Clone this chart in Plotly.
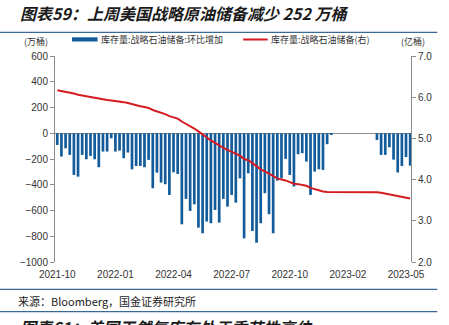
import pandas as pd
import plotly.graph_objects as go

# ---------------- data ----------------
weeks = pd.date_range("2021-10-01", periods=86, freq="7D").strftime("%Y-%m-%d").tolist()

# weekly change of SPR stocks (万桶)
spr_change = [
    -91, -181, -117, -168, -324, -337, -168, -202, -176, -202,
    -264, -142, -142, -39, -142, -135, -194, -150, -280, -254,
    -254, -264, -207, -427, -306, -383, -396, -479, -303, -316,
    -707, -510, -603, -552, -733, -777, -686, -699, -596, -694,
    -510, -570, -479, -539, -350, -816, -311, -759, -850, -699,
    -466, -629, -777, -368, -350, -199, -324, -414, -163, -155,
    -220, -479, -298, -280, -285, -85, -8,
    0, 0, 0, 0, 0, 0, 0, 0, 0, 0,
    -52, -168, -168, -109, -205, -305, -254, -185, -252,
]

# SPR stock level (亿桶, right axis)
spr_level = [
    6.17, 6.15, 6.14, 6.12, 6.09, 6.06, 6.04, 6.02, 6.00, 5.98,
    5.96, 5.94, 5.93, 5.92, 5.91, 5.90, 5.88, 5.86, 5.83, 5.81,
    5.78, 5.76, 5.74, 5.69, 5.66, 5.62, 5.59, 5.54, 5.51, 5.48,
    5.41, 5.36, 5.30, 5.24, 5.17, 5.09, 5.02, 4.95, 4.89, 4.82,
    4.77, 4.72, 4.67, 4.62, 4.58, 4.50, 4.47, 4.40, 4.32, 4.25,
    4.20, 4.14, 4.07, 4.03, 4.00, 3.98, 3.94, 3.90, 3.89, 3.87,
    3.85, 3.80, 3.77, 3.74, 3.71, 3.70, 3.70,
    3.70, 3.70, 3.70, 3.70, 3.70, 3.70, 3.70, 3.70, 3.70, 3.70,
    3.69, 3.68, 3.66, 3.65, 3.63, 3.60, 3.58, 3.56, 3.54,
]

tick_idx = [0, 14, 28, 42, 56, 70, 84]
tick_labels = ["2021-10", "2022-01", "2022-04", "2022-07", "2022-10", "2023-02", "2023-05"]
left_ticks = [600, 400, 200, 0, -200, -400, -600, -800, -1000]
right_ticks = [7.0, 6.0, 5.0, 4.0, 3.0, 2.0]

title_text = "图表59：上周美国战略原油储备减少 252 万桶"
next_title = "图表61：美国天然气库存处于季节性高位"
source_text = "来源：Bloomberg，国金证券研究所"
bar_name = "库存量:战略石油储备:环比增加"
line_name = "库存量:战略石油储备(右)"

# ---------------- layout helpers (pixel -> paper) ----------------
W, H = 449, 325
L, R, T, B = 55, 410.7, 56, 262


def px(x):
    return (x - L) / (R - L)


def py(y):
    return (B - y) / (B - T)


FONT = "Liberation Sans, Arial, Noto Sans CJK SC, sans-serif"
CJK = "Noto Sans CJK SC, sans-serif"
BAR_C = "#135C9B"
LINE_C = "#D51B22"
AX_C = "#8C8C8C"
TXT_C = "#333333"

fig = go.Figure()
fig.add_trace(go.Bar(x=weeks, y=spr_change, marker=dict(color=BAR_C, line=dict(width=0)),
                     name=bar_name, yaxis="y"))
fig.add_trace(go.Scatter(x=weeks, y=spr_level, mode="lines", line=dict(color=LINE_C, width=2),
                         name=line_name, yaxis="y2"))

fig.update_layout(
    width=W, height=H,
    margin=dict(l=L, r=W - R, t=T, b=H - B, pad=0),
    paper_bgcolor="white", plot_bgcolor="white",
    showlegend=False, bargap=0.35,
    font=dict(family=FONT, size=10, color=TXT_C),
    xaxis=dict(type="category", range=[-0.55, 85.2],
               tickvals=[weeks[i] for i in tick_idx], ticktext=tick_labels,
               showgrid=False, showline=False, ticks="", zeroline=False,
               ticklabelstandoff=5,
               tickfont=dict(size=10, color=TXT_C, family=FONT)),
    yaxis=dict(range=[-1000, 600], tickvals=left_ticks, showgrid=False,
               showline=True, linecolor=AX_C, linewidth=1,
               ticks="outside", ticklen=4, tickcolor=AX_C, tickwidth=1,
               zeroline=True, zerolinecolor=AX_C, zerolinewidth=1,
               tickfont=dict(size=10, color=TXT_C, family=FONT)),
    yaxis2=dict(range=[2, 7], overlaying="y", side="right", tickvals=right_ticks,
                ticktext=[f"{v:.1f}" for v in right_ticks], showgrid=False,
                showline=True, linecolor=AX_C, linewidth=1,
                ticks="outside", ticklen=4, tickcolor=AX_C, tickwidth=1,
                zeroline=False,
                tickfont=dict(size=10, color=TXT_C, family=FONT)),
)

shapes = []
# title underline and source lines
for yy in (32.3, 289.3, 311.7):
    shapes.append(dict(type="line", xref="paper", yref="paper",
                       x0=px(0), x1=px(437), y0=py(yy), y1=py(yy),
                       line=dict(color="#3A6A93", width=1.3)))
# legend symbols
shapes.append(dict(type="rect", xref="paper", yref="paper",
                   x0=px(72), x1=px(97.5), y0=py(41.5), y1=py(37.3),
                   fillcolor=BAR_C, line=dict(width=0)))
shapes.append(dict(type="line", xref="paper", yref="paper",
                   x0=px(243), x1=px(267.5), y0=py(39.5), y1=py(39.5),
                   line=dict(color=LINE_C, width=2)))
fig.update_layout(shapes=shapes)

ann = []
ann.append(dict(text=f"<b><i>{title_text}</i></b>", x=px(18), y=py(13), xref="paper", yref="paper",
                xanchor="left", yanchor="middle", showarrow=False,
                font=dict(family=CJK, size=16, color="#1a1a1a")))
ann.append(dict(text=f"<b><i>{next_title}</i></b>", x=px(18), y=py(327), xref="paper", yref="paper",
                xanchor="left", yanchor="middle", showarrow=False,
                font=dict(family=CJK, size=16, color="#1a1a1a")))
ann.append(dict(text=source_text, x=px(16), y=py(300.5), xref="paper", yref="paper",
                xanchor="left", yanchor="middle", showarrow=False,
                font=dict(family=CJK, size=11, color="#222222")))
ann.append(dict(text="(万桶)", x=px(36), y=py(41.5), xref="paper", yref="paper",
                xanchor="center", yanchor="middle", showarrow=False,
                font=dict(family=CJK, size=9, color=TXT_C)))
ann.append(dict(text="(亿桶)", x=px(413), y=py(41.5), xref="paper", yref="paper",
                xanchor="center", yanchor="middle", showarrow=False,
                font=dict(family=CJK, size=9, color=TXT_C)))
ann.append(dict(text=bar_name, x=px(98.5), y=py(39.5), xref="paper", yref="paper",
                xanchor="left", yanchor="middle", showarrow=False,
                font=dict(family=CJK, size=9, color=TXT_C)))
ann.append(dict(text=line_name, x=px(269), y=py(39.5), xref="paper", yref="paper",
                xanchor="left", yanchor="middle", showarrow=False,
                font=dict(family=CJK, size=9, color=TXT_C)))
fig.update_layout(annotations=ann)

fig.write_html("out.html")
